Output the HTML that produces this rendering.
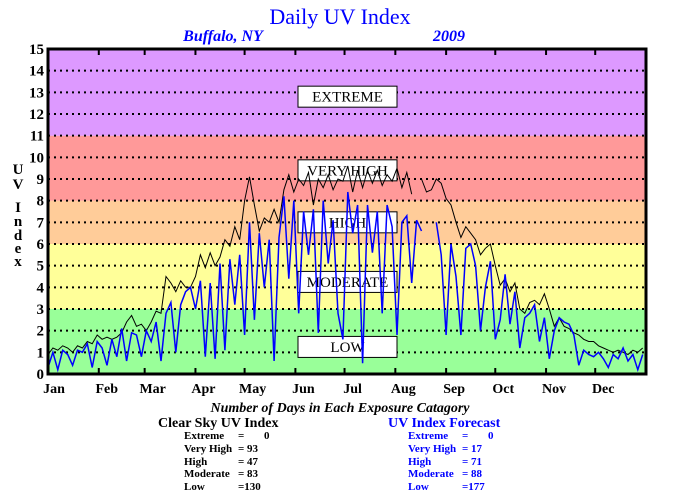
<!DOCTYPE html>
<html><head><meta charset="utf-8"><style>
body{margin:0;background:#fff;}
svg{display:block;font-family:"Liberation Serif",serif;}
</style></head><body>
<svg id="chart" width="680" height="500" viewBox="0 0 680 500" xmlns="http://www.w3.org/2000/svg">
<text x="340" y="24" text-anchor="middle" font-size="22" fill="#0000ff">Daily UV Index</text>
<text x="223" y="41" text-anchor="middle" font-size="16" font-weight="bold" font-style="italic" fill="#0000ff">Buffalo, NY</text>
<text x="449" y="41" text-anchor="middle" font-size="16" font-weight="bold" font-style="italic" fill="#0000ff">2009</text>
<g id="bands"></g>
<g id="grid"></g>
<g id="labels"></g>
<g id="series"></g>
<g id="axes"></g>
<g font-size="15" font-weight="bold" text-anchor="middle">
<text x="18" y="174">U</text><text x="18" y="189">V</text><text x="18" y="212">I</text><text x="18" y="226">n</text><text x="18" y="240">d</text><text x="18" y="253">e</text><text x="18" y="266">x</text>
</g>
<text x="340" y="412" text-anchor="middle" font-size="14" font-weight="bold" font-style="italic">Number of Days in Each Exposure Catagory</text>
<g font-weight="bold">
<text x="158" y="427" font-size="14">Clear Sky UV Index</text>
<g font-size="11"><text x="184" y="439">Extreme</text><text x="238" y="439">=</text><text x="264" y="439">0</text>
<text x="184" y="452">Very High</text><text x="238" y="452">= 93</text>
<text x="184" y="465">High</text><text x="238" y="465">= 47</text>
<text x="184" y="477">Moderate</text><text x="238" y="477">= 83</text>
<text x="184" y="490">Low</text><text x="238" y="490">=130</text></g>
</g>
<g font-weight="bold" fill="#0000ff">
<text x="388" y="427" font-size="14">UV Index Forecast</text>
<g font-size="11"><text x="408" y="439">Extreme</text><text x="462" y="439">=</text><text x="488" y="439">0</text>
<text x="408" y="452">Very High</text><text x="462" y="452">= 17</text>
<text x="408" y="465">High</text><text x="462" y="465">= 71</text>
<text x="408" y="477">Moderate</text><text x="462" y="477">= 88</text>
<text x="408" y="490">Low</text><text x="462" y="490">=177</text></g>
</g>
</svg>
<script>
const months = ["Jan","Feb","Mar","Apr","May","Jun","Jul","Aug","Sep","Oct","Nov","Dec"];
const monthStartDays = [0,31,59,90,120,151,181,212,243,273,304,334];
const yTicks = [0,1,2,3,4,5,6,7,8,9,10,11,12,13,14,15];
const bandLimits = [0,3,6,8,11,15];
const bandColors = ["#99ff99","#ffff99","#ffcc99","#ff9999","#dd99ff"];
const categoryNames = ["LOW","MODERATE","HIGH","VERY HIGH","EXTREME"];
const categoryCenters = [1.25,4.25,7,9.4,12.8];
const dayStep = 3;
const clearSky = [0.9,1.2,1.1,1.3,1.2,1.0,1.3,1.2,1.5,1.4,1.8,
1.6,1.7,1.6,1.7,1.9,2.4,2.7,2.2,2.3,
2.0,2.4,2.9,2.8,4.5,4.2,3.8,4.3,4.0,4.0,
4.5,5.5,4.9,5.6,5.0,5.4,6.2,5.9,6.8,6.2,
8.0,9.1,7.8,6.6,7.2,7.0,7.6,7.0,8.5,9.2,
8.4,9.0,8.7,9.3,7.8,9.0,8.6,9.2,8.5,9.0,
8.9,9.6,8.4,9.4,8.6,9.4,8.8,9.4,8.7,9.2,
8.9,9.5,8.6,9.3,8.3,null,9.0,8.4,8.5,9.0,
8.8,8.1,7.8,7.0,6.3,6.8,6.5,6.2,5.5,5.8,6.0,
5.0,4.1,4.4,3.8,4.2,3.0,2.8,3.3,3.4,3.2,
3.7,3.0,2.2,2.6,2.2,2.1,1.9,1.8,1.6,1.5,
1.5,1.3,1.2,1.1,1.0,1.1,1.0,0.9,1.1,1.0,1.2];
const forecast = [0.3,1.0,0.2,1.1,0.9,0.4,1.1,1.0,1.4,0.3,1.5,
1.2,0.4,1.6,0.8,2.1,0.6,1.9,1.8,0.8,
2.0,1.5,2.4,0.6,2.8,3.3,1.0,3.2,3.8,4.0,
3.0,4.3,0.8,4.2,0.7,5.1,1.1,5.3,3.2,5.5,
1.8,7.0,2.5,6.5,4.0,6.2,0.6,6.3,8.2,4.4,
8.0,2.8,7.5,5.5,7.6,1.9,8.0,5.1,7.1,2.8,
1.6,8.4,6.5,7.8,0.5,7.8,5.6,7.5,2.8,7.8,
6.8,1.8,7.0,7.3,4.2,7.1,6.6,null,null,7.0,
5.5,1.8,6.0,4.5,1.8,5.8,6.0,5.0,2.0,4.0,5.2,
1.6,2.5,4.6,2.3,3.8,1.2,2.6,2.8,3.2,1.5,
2.6,0.7,2.0,2.6,2.4,2.3,1.8,0.4,1.1,0.9,
0.8,1.0,0.7,0.3,0.9,0.7,1.2,0.6,0.9,0.2,0.9];

const NS="http://www.w3.org/2000/svg";
const X0=48,X1=646,Y0=374,Y1=49;
function xScale(d){return X0+(X1-X0)*d/365;}
function yScale(v){return Y0-(Y0-Y1)*v/15;}
function mk(tag,attrs,parent){const e=document.createElementNS(NS,tag);for(const k in attrs)e.setAttribute(k,attrs[k]);parent.appendChild(e);return e;}

const bands=document.getElementById('bands');
for(let i=0;i<bandColors.length;i++){
  const r=mk('rect',{x:X0,y:yScale(bandLimits[i+1]),width:X1-X0,height:yScale(bandLimits[i])-yScale(bandLimits[i+1]),fill:bandColors[i]},bands);
  
  
}
const grid=document.getElementById('grid');
for(const t of yTicks){
  if(t===0||t===15)continue;
  const l=mk('line',{x1:X0,x2:X1,y1:yScale(t),y2:yScale(t),stroke:'#000','stroke-width':2,'stroke-dasharray':'2 4'},grid);
  
  
}
const labels=document.getElementById('labels');
for(let i=0;i<categoryNames.length;i++){
  const cy=yScale(categoryCenters[i]);
  const r=mk('rect',{x:298,y:cy-10.5,width:99,height:21,fill:'#fff',stroke:'#000','stroke-width':1},labels);
  
  
  const t=mk('text',{x:347.5,y:cy+5,'text-anchor':'middle','font-size':15},labels);
  t.textContent=categoryNames[i];
  
  
}
function pathFor(arr){
  let d='',pen=false;
  arr.forEach((v,i)=>{
    if(v===null){pen=false;return;}
    d+=(pen?'L':'M')+xScale(i*dayStep).toFixed(1)+' '+yScale(v).toFixed(1)+' ';
    pen=true;
  });
  return d;
}
const series=document.getElementById('series');
const p1=mk('path',{d:pathFor(clearSky),fill:'none',stroke:'#000','stroke-width':1},series);


const p2=mk('path',{d:pathFor(forecast),fill:'none',stroke:'#0000ff','stroke-width':1.5},series);



const axes=document.getElementById('axes');
const fr=mk('rect',{x:X0,y:Y1,width:X1-X0,height:Y0-Y1,fill:'none',stroke:'#000','stroke-width':3},axes);


for(const t of yTicks){
  const tx=mk('text',{x:44,y:yScale(t)+5,'text-anchor':'end','font-size':15,'font-weight':'bold'},axes);
  tx.textContent=t;
  
  
}
months.forEach((m,i)=>{
  const x=xScale(monthStartDays[i]);
  if(i>0){
    const tk=mk('line',{x1:x,x2:x,y1:Y1,y2:Y1+6,stroke:'#000','stroke-width':2},axes);
    
    
    const tb=mk('line',{x1:x,x2:x,y1:Y0,y2:Y0-6,stroke:'#000','stroke-width':2},axes);
    
    
  }
  const t=mk('text',{x:x+(i===0?6:8),y:393,'text-anchor':'middle','font-size':14,'font-weight':'bold'},axes);
  t.textContent=m;
  
  
});
</script>
</body></html>
